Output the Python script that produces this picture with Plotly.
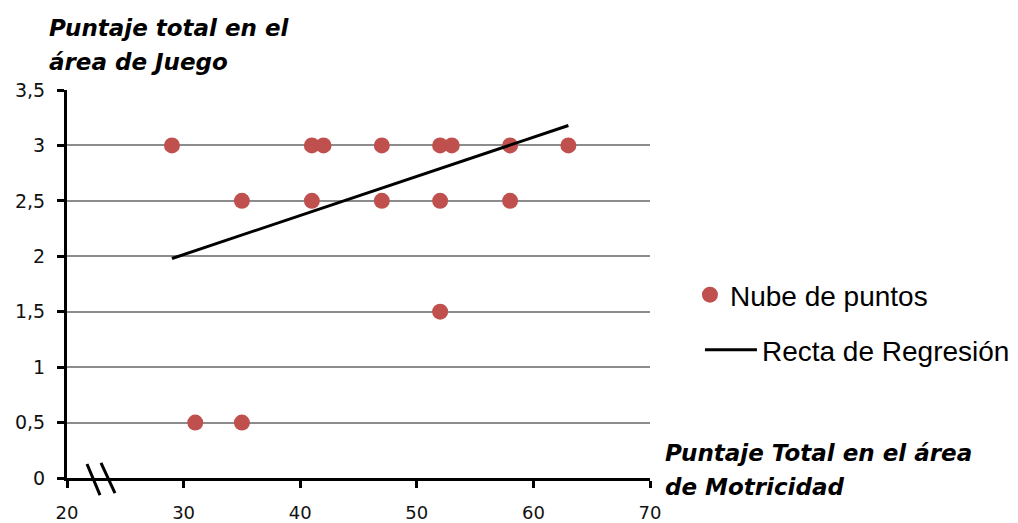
import plotly.graph_objects as go

# Data
x_points = [29, 41, 42, 47, 52, 53, 58, 63, 35, 41, 47, 52, 58, 52, 31, 35]
y_points = [3, 3, 3, 3, 3, 3, 3, 3, 2.5, 2.5, 2.5, 2.5, 2.5, 1.5, 0.5, 0.5]
x_regression = [29, 63]
y_regression = [1.98, 3.18]
x_ticks = [20, 30, 40, 50, 60, 70]
y_ticks = [0, 0.5, 1, 1.5, 2, 2.5, 3, 3.5]

series_names = ["Nube de puntos", "Recta de Regresión"]
y_title_lines = ["Puntaje total en el", "área de Juego"]
x_title_lines = ["Puntaje Total en el área", "de Motricidad"]

RED = "#C0504D"
TICK_FONT = dict(family="DejaVu Sans", size=19, color="#111111")
XTICK_FONT = dict(family="DejaVu Sans", size=18, color="#111111")
TITLE_FONT = dict(family="DejaVu Sans", size=23, color="#000000")
LEG_FONT = dict(family="Liberation Sans", size=28, color="#000000")

fig = go.Figure()
fig.add_trace(go.Scatter(
    x=x_points, y=y_points, mode="markers", name=series_names[0],
    marker=dict(color=RED, size=16, line=dict(width=0)),
    legend="legend", cliponaxis=False,
))
fig.add_trace(go.Scatter(
    x=x_regression, y=y_regression, mode="lines", name=series_names[1],
    line=dict(color="#000000", width=3),
    legend="legend2",
))

def title_ann(text, x, y):
    return dict(text="<b><i>" + text + "</i></b>", xref="paper", yref="paper",
                x=x, y=y, xanchor="left", yanchor="middle", align="left",
                showarrow=False, font=TITLE_FONT)

fig.update_layout(
    width=1010, height=515,
    margin=dict(l=59, r=368, t=82, b=45, autoexpand=False),
    paper_bgcolor="white", plot_bgcolor="white",
    separators=",.",
    showlegend=True,
    legend=dict(xref="container", yref="container", x=0.6752, y=0.4427,
                xanchor="left", yanchor="middle",
                font=LEG_FONT, bgcolor="rgba(0,0,0,0)", itemwidth=30),
    legend2=dict(xref="container", yref="container", x=0.6851, y=0.3359,
                 xanchor="left", yanchor="middle",
                 font=LEG_FONT, bgcolor="rgba(0,0,0,0)", itemwidth=52),
    xaxis=dict(range=[20, 70], tickvals=x_ticks, showgrid=False, zeroline=False,
               showline=True, linecolor="#000000", linewidth=3, automargin=False,
               ticks="outside", ticklen=7, tickwidth=3, tickcolor="#000000",
               tickfont=XTICK_FONT, ticklabelstandoff=9),
    yaxis=dict(range=[0, 3.5], tickvals=y_ticks, showgrid=True, gridcolor="#8c8c8c",
               gridwidth=1.5, zeroline=False, automargin=False,
               showline=True, linecolor="#000000", linewidth=3,
               ticks="outside", ticklen=7, tickwidth=3, tickcolor="#000000",
               tickfont=TICK_FONT, ticklabelstandoff=8),
    annotations=[
        title_ann(y_title_lines[0], -0.0343, 1.1598),
        title_ann(y_title_lines[1], -0.0343, 1.0722),
        title_ann(x_title_lines[0], 1.0223, 0.0644),
        title_ann(x_title_lines[1], 1.0223, -0.0232),
    ],
    shapes=[
        dict(type="line", xref="paper", yref="paper", x0=0.0343, y0=0.036,
             x1=0.0566, y1=-0.044, line=dict(color="#000000", width=3)),
        dict(type="line", xref="paper", yref="paper", x0=0.0583, y0=0.039,
             x1=0.0823, y1=-0.039, line=dict(color="#000000", width=3)),
    ],
)

fig.write_html("out.html")
